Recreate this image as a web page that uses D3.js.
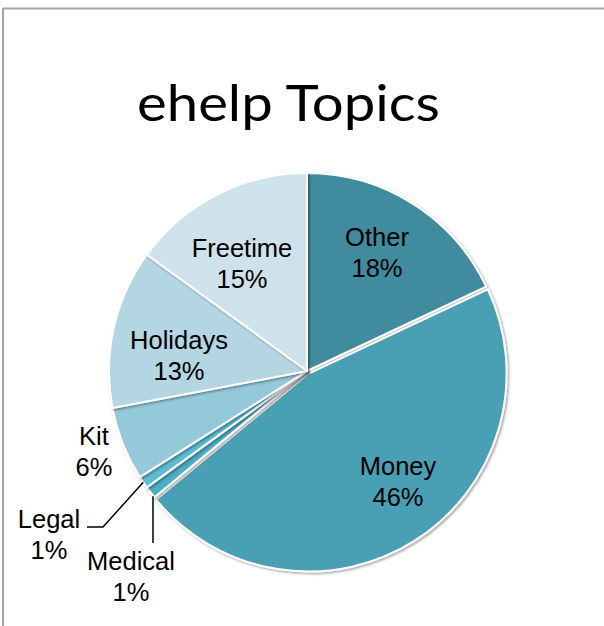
<!DOCTYPE html>
<html>
<head>
<meta charset="utf-8">
<script src="https://cdn.jsdelivr.net/npm/d3@7"></script>
<style>
  html, body { margin: 0; padding: 0; background: #fff; }
  svg { display: block; }
</style>
</head>
<body>
<svg id="chart" width="604" height="626"></svg>
<script>
const categories = ["Other", "Money", "Medical", "Legal", "Kit", "Holidays", "Freetime"];
const values = [18, 46, 1, 1, 6, 13, 15];
const colors = ["#3f8b9d", "#489fb3", "#4eaec5", "#5bbcd3", "#94c9d9", "#b4d5e2", "#cde2eb"];
const title = "ehelp Topics";

const svg = d3.select("#chart");
const W = 604, H = 626;

// frame
svg.append("line").attr("x1", 3).attr("y1", 8.5).attr("x2", W).attr("y2", 8.5)
  .attr("stroke", "#a3a3a3").attr("stroke-width", 2);
svg.append("line").attr("x1", 3).attr("y1", 8).attr("x2", 3).attr("y2", H)
  .attr("stroke", "#a3a3a3").attr("stroke-width", 2);

// title
svg.append("text").attr("x", 288.5).attr("y", 121).attr("text-anchor", "middle")
  .attr("font-family", "Lato, 'Open Sans', sans-serif").attr("font-size", 51)
  .attr("textLength", 303).attr("lengthAdjust", "spacingAndGlyphs")
  .attr("fill", "#000").text(title);

const defs = svg.append("defs");
const f = defs.append("filter").attr("id", "sh").attr("x", "-20%").attr("y", "-20%").attr("width", "140%").attr("height", "140%");
f.append("feDropShadow").attr("dx", 1.5).attr("dy", 1.5).attr("stdDeviation", 1.2)
  .attr("flood-color", "#000").attr("flood-opacity", 0.35);

const cx = 307, cy = 371, R = 198;
const pie = d3.pie().sort(null).value(d => d.v);
const data = pie(categories.map((c, i) => ({ c, v: values[i], col: colors[i] })));
const arc = d3.arc().innerRadius(0).outerRadius(R);

const g = svg.append("g").attr("transform", `translate(${cx},${cy})`);
g.selectAll("path").data(data).join("path")
  .attr("d", arc)
  .attr("transform", d => {
    if (d.data.c !== "Money") return null;
    const a = (d.startAngle + d.endAngle) / 2;
    const off = 3;
    return `translate(${off * Math.sin(a)},${-off * Math.cos(a)})`;
  })
  .attr("fill", d => d.data.col)
  .attr("stroke", "#fff").attr("stroke-width", 2).attr("stroke-linejoin", "round")
  .attr("filter", "url(#sh)");

// labels
const labelPos = {
  Other: [377, 246],
  Money: [398, 475],
  Freetime: [242, 257],
  Holidays: [179, 349],
  Kit: [94, 445],
  Legal: [49, 528],
  Medical: [131, 570]
};
const lg = svg.append("g").attr("font-family", "'Liberation Sans', Arial, sans-serif")
  .attr("font-size", 25.5).attr("fill", "#000").attr("text-anchor", "middle");
data.forEach(d => {
  const p = labelPos[d.data.c];
  const t = lg.append("text").attr("x", p[0]).attr("y", p[1]);
  t.append("tspan").attr("x", p[0]).text(d.data.c);
  t.append("tspan").attr("x", p[0]).attr("dy", 31).text(d.data.v + "%");
});

// leader lines (anchored at slice outer edges)
function edgePoint(name, r) {
  const d = data.find(x => x.data.c === name);
  const a = (d.startAngle + d.endAngle) / 2;
  return [cx + r * Math.sin(a), cy - r * Math.cos(a)];
}
const lp = edgePoint("Legal", R);
svg.append("polyline")
  .attr("points", [[lp[0], lp[1]], [103, 527], [87, 527]].map(p => p.join(",")).join(" "))
  .attr("fill", "none").attr("stroke", "#000").attr("stroke-width", 1.5);
const mp = edgePoint("Medical", R);
svg.append("line").attr("x1", 153).attr("y1", mp[1] + 4).attr("x2", 153).attr("y2", 543)
  .attr("stroke", "#000").attr("stroke-width", 1.5);
</script>
</body>
</html>
